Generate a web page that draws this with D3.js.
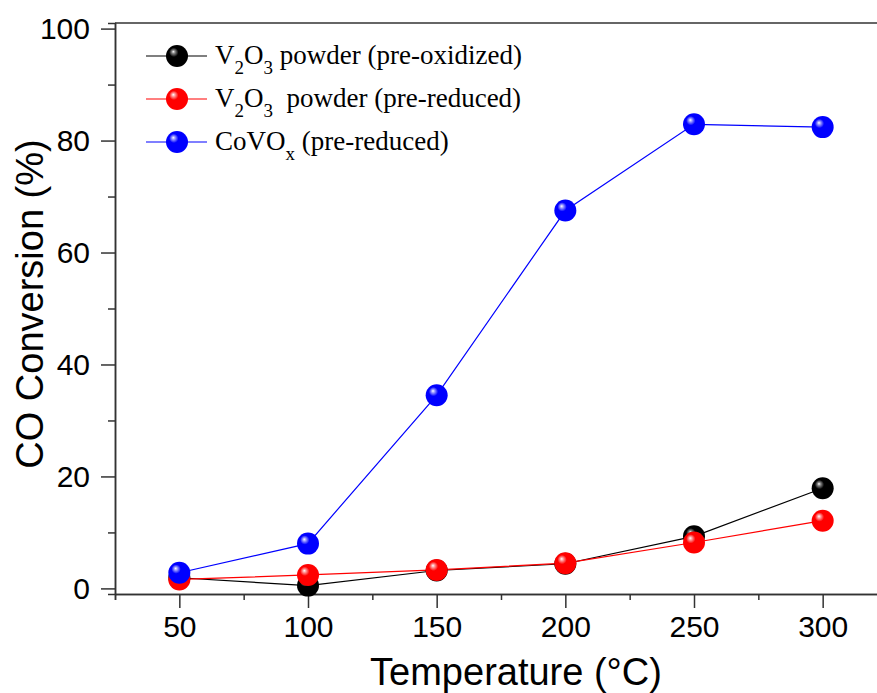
<!DOCTYPE html>
<html>
<head>
<meta charset="utf-8">
<script src="https://cdn.jsdelivr.net/npm/d3@7"></script>
<style>
  body { margin: 0; background: #fff; }
  svg { display: block; }
  .axis text { font-family: "Liberation Sans", Arial, sans-serif; font-size: 30px; fill: #000; }
  .axis path, .axis line { stroke: #333; stroke-width: 1.5px; }
</style>
</head>
<body>
<div id="chart"></div>
<script>
// temperatures (°C) and CO conversion (%)
const temps = [50, 100, 150, 200, 250, 300];
const preOxidized = [1.9, 0.5, 3.2, 4.4, 9.3, 17.9];
const preReduced = [1.6, 2.4, 3.3, 4.5, 8.2, 12.1];
const covox = [2.8, 8.0, 34.5, 67.5, 82.9, 82.4];

const xMajorTicks = [50, 100, 150, 200, 250, 300];
const xMinorTicks = [25, 75, 125, 175, 225, 275, 325];
const yMajorTicks = [0, 20, 40, 60, 80, 100];
const yMinorTicks = [10, 30, 50, 70, 90];

// legend: text parts, subscripts flagged
const seriesInfo = [
  { name: "preOxidized", values: preOxidized, color: "#000000", light: "#8a8a8a",
    label: [["V", 0], ["2", 1], ["O", 0], ["3", 1], [" powder (pre-oxidized)", 0]] },
  { name: "preReduced", values: preReduced, color: "#ff0000", light: "#ffa0a0",
    label: [["V", 0], ["2", 1], ["O", 0], ["3", 1], ["  powder (pre-reduced)", 0]] },
  { name: "covox", values: covox, color: "#0000ff", light: "#a0a0ff",
    label: [["CoVO", 0], ["x", 1], [" (pre-reduced)", 0]] }
];

const W = 877, H = 693;
const margin = { top: 23, left: 115 };
const plotW = 772, plotH = 571;

const svg = d3.select("#chart").append("svg")
  .attr("width", W)
  .attr("height", H);

const defs = svg.append("defs");
seriesInfo.forEach(s => {
  const g = defs.append("radialGradient")
    .attr("id", "ball-" + s.name)
    .attr("cx", 0.4).attr("cy", 0.4).attr("r", 0.6)
    .attr("fx", 0.33).attr("fy", 0.3);
  g.append("stop").attr("offset", "0%").attr("stop-color", "#ffffff");
  g.append("stop").attr("offset", "12%").attr("stop-color", s.light);
  g.append("stop").attr("offset", "35%").attr("stop-color", s.color);
  g.append("stop").attr("offset", "100%").attr("stop-color", s.color);
});

const x = d3.scaleLinear().domain([25, 325]).range([margin.left, margin.left + plotW]);
const y = d3.scaleLinear().domain([-1, 101]).range([margin.top + plotH, margin.top]);

const bottom = margin.top + plotH;

// minor ticks
svg.append("g").attr("class", "axis")
  .attr("transform", `translate(0,${bottom})`)
  .call(d3.axisBottom(x).tickValues(xMinorTicks).tickSize(6).tickFormat(""));
svg.append("g").attr("class", "axis")
  .attr("transform", `translate(${margin.left},0)`)
  .call(d3.axisLeft(y).tickValues(yMinorTicks).tickSize(7).tickFormat(""));

// major ticks
svg.append("g").attr("class", "axis")
  .attr("transform", `translate(0,${bottom})`)
  .call(d3.axisBottom(x).tickValues(xMajorTicks).tickSize(14).tickSizeOuter(0).tickPadding(8))
  .call(g => g.selectAll("text").attr("dy", "0.71em"));
svg.append("g").attr("class", "axis")
  .attr("transform", `translate(${margin.left},0)`)
  .call(d3.axisLeft(y).tickValues(yMajorTicks).tickSize(14).tickSizeOuter(0).tickPadding(11));

// top frame line
svg.append("line")
  .attr("x1", margin.left).attr("x2", margin.left + plotW)
  .attr("y1", margin.top).attr("y2", margin.top)
  .attr("stroke", "#333").attr("stroke-width", 1.5);

// series lines and balls
const line = d3.line()
  .x((d, i) => x(temps[i]))
  .y(d => y(d));

seriesInfo.forEach(s => {
  svg.append("path")
    .datum(s.values)
    .attr("fill", "none")
    .attr("stroke", s.color)
    .attr("stroke-width", 1.2)
    .attr("d", line);
});
seriesInfo.forEach(s => {
  svg.append("g").selectAll("circle")
    .data(s.values)
    .enter().append("circle")
      .attr("cx", (d, i) => x(temps[i]))
      .attr("cy", d => y(d))
      .attr("r", 11)
      .attr("fill", `url(#ball-${s.name})`);
});

// axis titles
svg.append("text")
  .attr("x", 516)
  .attr("y", 685)
  .attr("text-anchor", "middle")
  .style("font-family", "Liberation Sans, Arial, sans-serif")
  .style("font-size", "38px")
  .text("Temperature (°C)");

svg.append("text")
  .attr("transform", "translate(43,304) rotate(-90)")
  .attr("text-anchor", "middle")
  .style("font-family", "Liberation Sans, Arial, sans-serif")
  .style("font-size", "38px")
  .text("CO Conversion (%)");

// legend
const legend = svg.append("g");
seriesInfo.forEach((s, i) => {
  const ly = 56 + i * 43;
  legend.append("line")
    .attr("x1", 146).attr("x2", 207)
    .attr("y1", ly).attr("y2", ly)
    .attr("stroke", s.color).attr("stroke-width", 1.2);
  legend.append("circle")
    .attr("cx", 177).attr("cy", ly).attr("r", 11)
    .attr("fill", `url(#ball-${s.name})`);
  const t = legend.append("text")
    .attr("x", 215).attr("y", ly + 8)
    .style("font-family", "Liberation Serif, Times New Roman, serif")
    .style("font-size", "27px")
    .style("white-space", "pre")
    .attr("xml:space", "preserve");
  s.label.forEach(([txt, sub], j) => {
    const prev = j > 0 ? s.label[j - 1][1] : 0;
    t.append("tspan")
      .text(txt)
      .style("font-size", sub ? "19px" : null)
      .attr("dy", sub && !prev ? 10 : (!sub && prev ? -10 : 0));
  });
});
</script>
</body>
</html>
